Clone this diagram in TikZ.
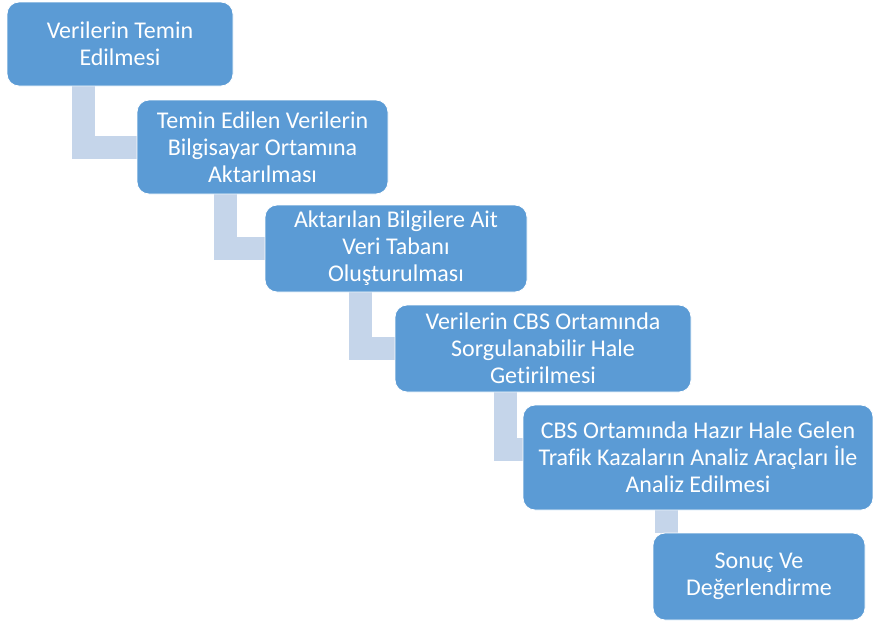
\documentclass[tikz,border=0pt]{standalone}
\usepackage{fontspec}
\setmainfont{Carlito}[Ligatures=NoCommon]
\usetikzlibrary{backgrounds}

\definecolor{boxblue}{HTML}{5B9BD5}
\definecolor{linkblue}{HTML}{C5D5EA}

\tikzset{
    stepbox/.style={rectangle, rounded corners=9pt, fill=boxblue, draw=white,
        line width=0.6pt, text=white, align=center, inner sep=0pt,
        font=\fontsize{18}{20.3}\selectfont},
    link/.style={draw=linkblue, line width=17.25pt, line join=miter}
}

\begin{document}
\begin{tikzpicture}[x=0.75pt, y=-0.75pt]

    \useasboundingbox (0,0) rectangle (873,625);

    % Process steps
    \node[stepbox, minimum width=169.5pt, minimum height=63pt] (b1) at (120,44)
        {Verilerin Temin\\Edilmesi};
    \node[stepbox, minimum width=188.25pt, minimum height=70.5pt] (b2) at (262.5,147)
        {Temin Edilen Verilerin\\Bilgisayar Ortamına\\Aktarılması};
    \node[stepbox, minimum width=196.5pt, minimum height=65.25pt] (b3) at (396,248.5)
        {Aktarılan Bilgilere Ait\\Veri Tabanı\\Oluşturulması};
    \node[stepbox, minimum width=222pt, minimum height=65.25pt] (b4) at (543,348.5)
        {Verilerin CBS Ortamında\\Sorgulanabilir Hale\\Getirilmesi};
    \node[stepbox, minimum width=262.5pt, minimum height=78.75pt] (b5) at (698,457.5)
        {CBS Ortamında Hazır Hale Gelen\\Trafik Kazaların Analiz Araçları İle\\Analiz Edilmesi};
    \node[stepbox, minimum width=159pt, minimum height=65.25pt] (b6) at (759,576.5)
        {Sonuç Ve\\Değerlendirme};

    % L-shaped links behind the boxes
    \begin{scope}[on background layer]
        \draw[link] ([xshift=57.75pt]b1.south west) |- (b2.west);
        \draw[link] ([xshift=66.4pt]b2.south west) |- (b3.west);
        \draw[link] ([xshift=71.6pt]b3.south west) |- (b4.west);
        \draw[link] ([xshift=83.25pt]b4.south west) |- ([yshift=6pt]b5.west);
        \draw[link] ([xshift=107.6pt]b5.south west) -- ([xshift=10.1pt]b6.north west);
    \end{scope}

\end{tikzpicture}
\end{document}
